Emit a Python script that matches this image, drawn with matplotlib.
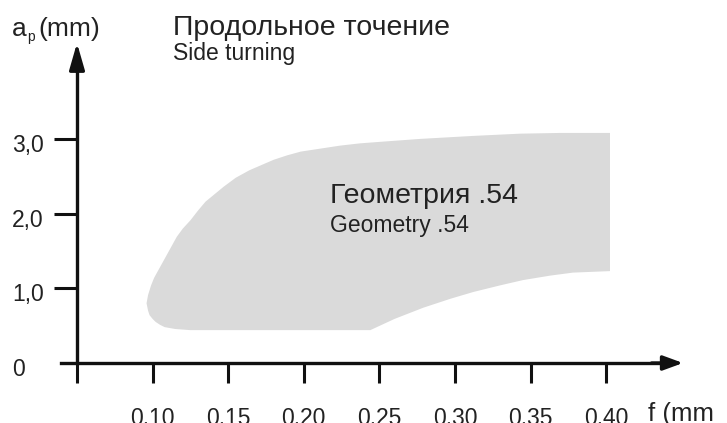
import matplotlib
matplotlib.use("Agg")
import matplotlib.pyplot as plt
from matplotlib.transforms import ScaledTranslation

plt.rcParams['font.family'] = ['Liberation Sans', 'DejaVu Sans']

# ---------------- data ----------------
x_ticks = [0.05, 0.10, 0.15, 0.20, 0.25, 0.30, 0.35, 0.40]
x_tick_labels = ['', '0,10', '0,15', '0,20', '0,25', '0,30', '0,35', '0,40']
y_ticks = [0, 1.0, 2.0, 3.0]
y_tick_labels = ['0', '1,0', '2,0', '3,0']

# outline of the application area (feed f in mm, depth a_p in mm)
area_f = [0.4025, 0.370, 0.343, 0.312, 0.277, 0.250, 0.237, 0.224, 0.211,
          0.198, 0.189, 0.180, 0.172, 0.164, 0.155, 0.147, 0.141, 0.135,
          0.130, 0.125, 0.120, 0.116, 0.113, 0.110, 0.107, 0.104, 0.101,
          0.099, 0.097, 0.096, 0.097, 0.098, 0.100, 0.102, 0.105, 0.108,
          0.115, 0.125, 0.244, 0.260, 0.279, 0.297, 0.312, 0.330, 0.345,
          0.363, 0.378, 0.4025]
area_ap = [3.08, 3.08, 3.07, 3.04, 3.00, 2.96, 2.94, 2.91, 2.87,
           2.83, 2.78, 2.72, 2.65, 2.58, 2.48, 2.36, 2.26, 2.16,
           2.04, 1.91, 1.80, 1.69, 1.58, 1.47, 1.36, 1.25, 1.14,
           1.04, 0.91, 0.80, 0.70, 0.64, 0.59, 0.55, 0.51, 0.48,
           0.455, 0.44, 0.44, 0.59, 0.74, 0.86, 0.95, 1.04, 1.11,
           1.17, 1.21, 1.23]

title_ru = 'Продольное точение'
title_en = 'Side turning'
area_ru = 'Геометрия .54'
area_en = 'Geometry .54'
y_name = ('a', 'p', '(mm)')
x_name = 'f (mm'

# ---------------- figure ----------------
W, H = 727, 423
fig = plt.figure(figsize=(W / 100, H / 100), dpi=100)
ax = fig.add_axes([0, 0, 1, 1])
ax.set_xlim(-0.000926, 0.47989)
ax.set_ylim(-0.8032, 4.8594)

line_c = '#111111'
text_c = '#222222'
lw = 2.4

ax.fill(area_f, area_ap, color='#dadada', lw=0, zorder=1)

for s in ('top', 'right'):
    ax.spines[s].set_visible(False)
ax.spines['left'].set_position(('data', 0.05))
ax.spines['bottom'].set_position(('data', 0.0))
ax.spines['left'].set_bounds(0.0, 4.0)
ax.spines['bottom'].set_bounds(0.0394, 0.445)
for s in ('left', 'bottom'):
    ax.spines[s].set_linewidth(lw)
    ax.spines[s].set_color(line_c)

# arrows
ax.annotate('', xy=(0.05, 4.284), xytext=(0.05, 3.9),
            arrowprops=dict(arrowstyle='-|>,head_length=16,head_width=4.6',
                            mutation_scale=1, color=line_c, lw=lw,
                            shrinkA=0, shrinkB=0), zorder=5)
ax.annotate('', xy=(0.4508, 0.0), xytext=(0.43, 0.0),
            arrowprops=dict(arrowstyle='-|>,head_length=12,head_width=4.4',
                            mutation_scale=1, color=line_c, lw=lw,
                            shrinkA=0, shrinkB=0), zorder=5)

ax.set_xticks(x_ticks)
ax.set_xticklabels(x_tick_labels)
ax.set_yticks(y_ticks)
ax.set_yticklabels(y_tick_labels)
ax.tick_params(axis='x', direction='out', length=14.4, width=2.2,
               color=line_c, pad=17.0, labelsize=16.5, labelcolor=text_c)
ax.tick_params(axis='y', direction='out', length=16.5, width=2.2,
               color=line_c, pad=30.3, labelsize=16.5, labelcolor=text_c)
ax.yaxis.get_major_ticks()[0].tick1line.set_visible(False)
off = ScaledTranslation(0, -4.0 / 100, fig.dpi_scale_trans)
for lab in ax.get_yticklabels():
    lab.set_horizontalalignment('left')
    lab.set_transform(lab.get_transform() + off)


def fpos(x, y):
    return x / W, 1 - y / H


fig.text(*fpos(12, 36), y_name[0], fontsize=19, color=text_c, va='baseline')
fig.text(*fpos(27, 41), y_name[1], fontsize=10, color=text_c, va='baseline')
fig.text(*fpos(38, 36), y_name[2], fontsize=19, color=text_c, va='baseline')
fig.text(*fpos(173, 35), title_ru, fontsize=20.5, color=text_c, va='baseline')
fig.text(*fpos(173, 60), title_en, fontsize=16.5, color=text_c, va='baseline')
fig.text(*fpos(330, 203), area_ru, fontsize=20.5, color=text_c, va='baseline')
fig.text(*fpos(330, 232), area_en, fontsize=16.5, color=text_c, va='baseline')
fig.text(*fpos(648, 421), x_name, fontsize=18.5, color=text_c, va='baseline')

fig.savefig('out.png', dpi=100)
